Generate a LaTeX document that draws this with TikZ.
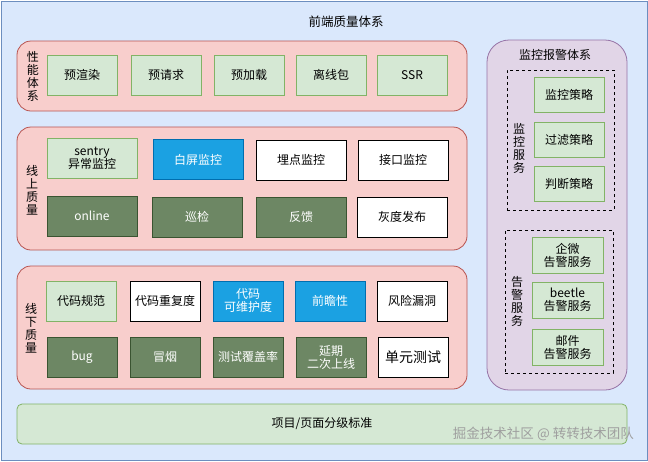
\documentclass[tikz,border=0pt]{standalone}
\usepackage{fontspec}
\setmainfont{Noto Sans CJK SC}
\usetikzlibrary{positioning}

\definecolor{bgblue}{HTML}{DAE8FC}
\definecolor{bgline}{HTML}{6C8EBF}
\definecolor{redfill}{HTML}{F8CECC}
\definecolor{redline}{HTML}{B85450}
\definecolor{purfill}{HTML}{E1D5E7}
\definecolor{purline}{HTML}{9673A6}
\definecolor{lgfill}{HTML}{D5E8D4}
\definecolor{lgline}{HTML}{82B366}
\definecolor{dgfill}{HTML}{6D8764}
\definecolor{dgline}{HTML}{3A5431}
\definecolor{bluefill}{HTML}{1BA1E2}
\definecolor{blueline}{HTML}{006EAF}

\tikzset{
  every node/.style={font=\fontsize{12}{13}\selectfont, inner sep=0pt, align=center},
  grp/.style={draw=redline, fill=redfill, rounded corners=14pt, line width=0.8pt},
  lgbox/.style={draw=lgline, fill=lgfill, line width=0.8pt, minimum width=70pt, minimum height=40pt},
  dgbox/.style={draw=dgline, fill=dgfill, text=white, line width=0.8pt, minimum width=70pt, minimum height=40pt},
  bluebox/.style={draw=blueline, fill=bluefill, text=white, line width=0.8pt, minimum width=70pt, minimum height=40pt},
  wbox/.style={draw=black, fill=white, line width=0.8pt, minimum width=70pt, minimum height=40pt},
  side/.style={text width=14pt},
  svc/.style={draw=black, dashed, line width=0.7pt},
}

\begin{document}
\begin{tikzpicture}[x=1pt,y=-1pt]
\useasboundingbox (0,0) rectangle (648,461);
\node[draw=bgline, fill=bgblue, minimum width=646pt, minimum height=459pt, line width=1pt] (bg) at (324,230.5){};

\node[font=\fontsize{12.5}{14}\selectfont] (title) at (346,22){前端质量体系};

% 性能体系
\node[grp, minimum width=450pt, minimum height=70pt] (perf) at (242,76){};
\node[side] (perflbl) at (33,76){性\\能\\体\\系};
\node[lgbox] (p1) at (82,75){预渲染};
\node[lgbox] (p2) at (166,75){预请求};
\node[lgbox] (p3) at (249,75){预加载};
\node[lgbox] (p4) at (331,75){离线包};
\node[lgbox] (p5) at (412,75){SSR};

% 线上质量
\node[grp, minimum width=450pt, minimum height=123pt] (online) at (242,188.5){};
\node[side] (onlbl) at (32,190){线\\上\\质\\量};
\node[lgbox, minimum width=90pt] (on1) at (92,158){sentry\\异常监控};
\node[bluebox, minimum width=90pt] (on2) at (198,159.5){白屏监控};
\node[wbox, minimum width=90pt] (on3) at (301,160){埋点监控};
\node[wbox, minimum width=90pt] (on4) at (403,160){接口监控};
\node[dgbox, minimum width=90pt] (on5) at (92,216){online};
\node[dgbox, minimum width=90pt] (on6) at (197,217){巡检};
\node[dgbox, minimum width=90pt] (on7) at (301,217){反馈};
\node[wbox, minimum width=90pt] (on8) at (402,217){灰度发布};

% 线下质量
\node[grp, minimum width=450pt, minimum height=123pt] (offline) at (242,327.5){};
\node[side] (offlbl) at (31,328){线\\下\\质\\量};
\node[lgbox] (off1) at (81,301){代码规范};
\node[wbox] (off2) at (165,301){代码重复度};
\node[bluebox] (off3) at (248,301){代码\\可维护度};
\node[bluebox] (off4) at (330,301){前瞻性};
\node[wbox] (off5) at (412,301){风险漏洞};
\node[dgbox] (off6) at (82,357){bug};
\node[dgbox] (off7) at (165,357){冒烟};
\node[dgbox] (off8) at (248,357){测试覆盖率};
\node[dgbox] (off9) at (331,357){延期\\二次上线};
\node[wbox, font=\fontsize{14}{15}\selectfont] (off10) at (413,357){单元测试};

% 监控报警体系
\node[draw=purline, fill=purfill, rounded corners=22pt, line width=0.8pt, minimum width=140pt, minimum height=350pt] (alarm) at (557,215){};
\node (alarmtitle) at (555,55){监控报警体系};
\node[svc, minimum width=107pt, minimum height=140pt] (mon) at (560.5,140){};
\node[side] (monlbl) at (519,148){监\\控\\服\\务};
\node[lgbox, minimum height=35pt] (m1) at (569,94.5){监控策略};
\node[lgbox, minimum height=35pt] (m2) at (569,139.5){过滤策略};
\node[lgbox, minimum height=35pt] (m3) at (569,184){判断策略};
\node[svc, minimum width=108pt, minimum height=143pt] (warn) at (559,301.5){};
\node[side] (warnlbl) at (517,301){告\\警\\服\\务};
\node[lgbox, minimum width=71pt, minimum height=36pt] (w1) at (567.5,255){企微\\告警服务};
\node[lgbox, minimum width=71pt, minimum height=36pt] (w2) at (567.5,300){beetle\\告警服务};
\node[lgbox, minimum width=71pt, minimum height=36pt] (w3) at (567.5,347.5){邮件\\告警服务};

% 项目/页面分级标准
\node[draw=lgline, fill=lgfill, rounded corners=5pt, line width=0.8pt, minimum width=610pt, minimum height=40pt] (std) at (322,424){项目/页面分级标准};
\node[text=gray!75, font=\fontsize{13.5}{15}\selectfont, anchor=east] (mark) at (634,434){掘金技术社区 @ 转转技术团队};
\end{tikzpicture}
\end{document}
